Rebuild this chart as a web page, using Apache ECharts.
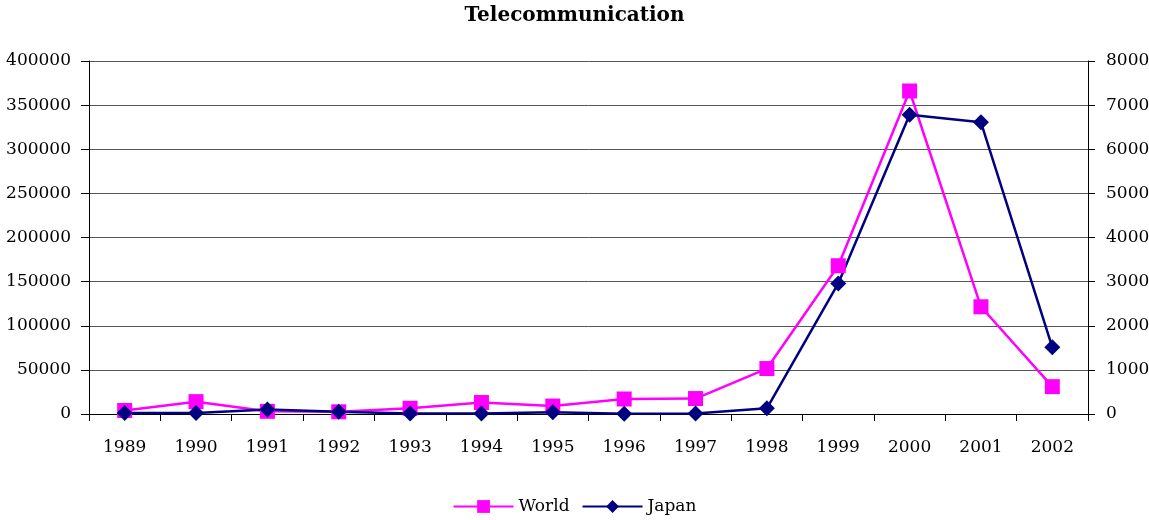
<!DOCTYPE html>
<html>
<head>
<meta charset="utf-8">
<script src="https://cdn.jsdelivr.net/npm/echarts@6/dist/echarts.min.js"></script>
<style>html,body{margin:0;padding:0;background:#fff}#c{width:1149px;height:520px}</style>
</head>
<body>
<div id="c"></div>
<script>
const categories = ['1989','1990','1991','1992','1993','1994','1995','1996','1997','1998','1999','2000','2001','2002'];
const world = [4000, 14000, 3000, 2500, 6500, 13000, 9000, 17000, 17500, 51500, 168000, 366000, 121500, 31000];
const japan = [20, 20, 100, 50, 10, 10, 40, 5, 10, 130, 2960, 6780, 6610, 1510];
const leftTicks = [0, 400000, 50000];
const rightTicks = [0, 8000, 1000];

const font = 'DejaVu Serif, Liberation Serif, serif';
const plain = v => String(v);
const chart = echarts.init(document.getElementById('c'));
chart.setOption({
  animation: false,
  backgroundColor: '#fff',
  title: {
    text: 'Telecommunication', left: 'center', top: 1,
    textStyle: { fontFamily: font, fontSize: 20, fontWeight: 'bold', color: '#000' }
  },
  legend: {
    bottom: 0, left: 'center', itemWidth: 60, itemHeight: 16, itemGap: 12,
    textStyle: { fontFamily: font, fontSize: 17, color: '#000' },
    data: ['World', 'Japan']
  },
  grid: { left: 89, right: 61, top: 61, bottom: 106, outerBoundsMode: 'none', containLabel: false },
  xAxis: {
    type: 'category', data: categories, boundaryGap: true,
    axisLine: { lineStyle: { color: '#000', width: 1 } },
    axisTick: { show: true, length: 7, lineStyle: { color: '#000' } },
    axisLabel: { fontFamily: font, fontSize: 17, color: '#000', margin: 25 }
  },
  yAxis: [
    {
      type: 'value', min: leftTicks[0], max: leftTicks[1], interval: leftTicks[2], position: 'left',
      axisLine: { show: true, lineStyle: { color: '#000', width: 1 } },
      axisTick: { show: true, length: 8, lineStyle: { color: '#000' } },
      axisLabel: { fontFamily: font, fontSize: 17, color: '#000', margin: 18, formatter: plain },
      splitLine: { show: true, lineStyle: { color: '#555', width: 1 } }
    },
    {
      type: 'value', min: rightTicks[0], max: rightTicks[1], interval: rightTicks[2], position: 'right',
      axisLine: { show: true, lineStyle: { color: '#000', width: 1 } },
      axisTick: { show: true, length: 7, lineStyle: { color: '#000' } },
      axisLabel: { fontFamily: font, fontSize: 17, color: '#000', margin: 18, formatter: plain },
      splitLine: { show: false }
    }
  ],
  series: [
    {
      name: 'World', type: 'line', yAxisIndex: 0, data: world,
      symbol: 'rect', symbolSize: 15,
      itemStyle: { color: '#FF00FF' },
      lineStyle: { color: '#FF00FF', width: 2.5 }
    },
    {
      name: 'Japan', type: 'line', yAxisIndex: 1, data: japan,
      symbol: 'diamond', symbolSize: 16,
      itemStyle: { color: '#000080' },
      lineStyle: { color: '#000080', width: 2.5 }
    }
  ]
});
</script>
</body>
</html>
